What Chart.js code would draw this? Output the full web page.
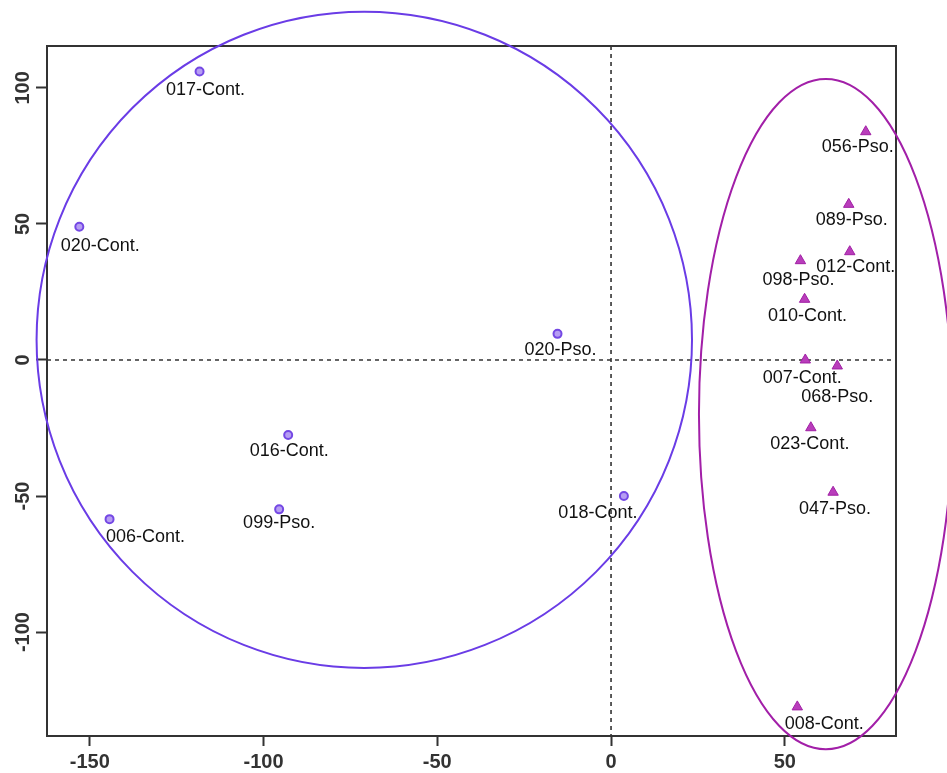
<!DOCTYPE html>
<html>
<head>
<meta charset="utf-8">
<script src="https://cdn.jsdelivr.net/npm/chart.js@4"></script>
<style>
  html, body { margin: 0; padding: 0; background: #fff; }
  #wrap { width: 947px; height: 773px; }
</style>
</head>
<body>
<div id="wrap"><canvas id="pca" width="947" height="773"></canvas></div>
<script>
// Group 1 (circles)
const circleNames = ["017-Cont.", "020-Cont.", "020-Pso.", "016-Cont.", "099-Pso.", "006-Cont.", "018-Cont."];
const circleX = [-118.4, -153.0, -15.4, -92.9, -95.5, -144.3, 3.7];
const circleY = [106.0, 49.0, 9.6, -27.6, -54.9, -58.5, -50.0];

// Group 2 (triangles)
const triangleNames = ["056-Pso.", "089-Pso.", "012-Cont.", "098-Pso.", "010-Cont.", "007-Cont.", "068-Pso.", "023-Cont.", "047-Pso.", "008-Cont."];
const triangleX = [73.3, 68.4, 68.7, 54.5, 55.7, 55.9, 65.1, 57.5, 63.9, 53.6];
const triangleY = [83.9, 57.2, 39.8, 36.5, 22.3, 0.0, -2.2, -24.9, -48.6, -127.5];

// Group ellipses: centre and half-axes in data units
const ellipseCx = [-71.0, 61.8];
const ellipseCy = [7.4, -19.9];
const ellipseRx = [94.3, 36.5];
const ellipseRy = [120.6, 123.2];

// Tick values
const xTicks = [-150, -100, -50, 0, 50];
const yTicks = [-100, -50, 0, 50, 100];

// Label nudges (pixels) so text sits like the original
const circleLabelDx = [6, 21, 3, 1, 0, 36, -26];
const circleLabelDy = [18, 19, 16, 16, 14, 18, 17];
const triangleLabelDx = [-8, 3, 6, -2, 3, -3, 0, -1, 2, 27];
const triangleLabelDy = [15, 16, 15, 19, 17, 18, 31, 16, 17, 17];

const blue = "#6a3ce6";
const magenta = "#a21fa8";
const axisColor = "#333333";

function toPoints(xs, ys) {
  return xs.map((x, i) => ({ x: x, y: ys[i] }));
}

// zero lines, frame, ellipses, labels
const decorPlugin = {
  id: "decor",
  beforeDatasetsDraw(chart) {
    const ctx = chart.ctx;
    const a = chart.chartArea;
    const xs = chart.scales.x;
    const ys = chart.scales.y;
    ctx.save();
    ctx.strokeStyle = axisColor;
    ctx.lineWidth = 1.6;
    ctx.setLineDash([4, 4]);
    const x0 = xs.getPixelForValue(0);
    const y0 = ys.getPixelForValue(0);
    ctx.beginPath();
    ctx.moveTo(x0, a.top);
    ctx.lineTo(x0, a.bottom);
    ctx.moveTo(a.left, y0);
    ctx.lineTo(a.right, y0);
    ctx.stroke();
    ctx.restore();
  },
  afterDatasetsDraw(chart) {
    const ctx = chart.ctx;
    const a = chart.chartArea;
    const xs = chart.scales.x;
    const ys = chart.scales.y;
    ctx.save();

    // frame
    ctx.strokeStyle = axisColor;
    ctx.lineWidth = 2;
    ctx.strokeRect(a.left, a.top, a.right - a.left, a.bottom - a.top);

    // ellipses
    const colors = [blue, magenta];
    ellipseCx.forEach((cx, i) => {
      const px = xs.getPixelForValue(cx);
      const py = ys.getPixelForValue(ellipseCy[i]);
      const rx = Math.abs(xs.getPixelForValue(cx + ellipseRx[i]) - px);
      const ry = Math.abs(ys.getPixelForValue(ellipseCy[i] + ellipseRy[i]) - py);
      ctx.beginPath();
      ctx.ellipse(px, py, rx, ry, 0, 0, Math.PI * 2);
      ctx.strokeStyle = colors[i];
      ctx.lineWidth = 2;
      ctx.stroke();
    });

    // point labels
    ctx.fillStyle = "#111";
    ctx.font = "18px 'Liberation Sans', Arial, sans-serif";
    ctx.textAlign = "center";
    ctx.textBaseline = "middle";
    circleNames.forEach((n, i) => {
      ctx.fillText(n, xs.getPixelForValue(circleX[i]) + circleLabelDx[i],
        ys.getPixelForValue(circleY[i]) + circleLabelDy[i]);
    });
    triangleNames.forEach((n, i) => {
      ctx.fillText(n, xs.getPixelForValue(triangleX[i]) + triangleLabelDx[i],
        ys.getPixelForValue(triangleY[i]) + triangleLabelDy[i]);
    });

    // rotated y tick labels
    ctx.fillStyle = axisColor;
    ctx.font = "bold 20px 'Liberation Sans', Arial, sans-serif";
    yTicks.forEach((v) => {
      ctx.save();
      ctx.translate(23, ys.getPixelForValue(v));
      ctx.rotate(-Math.PI / 2);
      ctx.fillText(String(v), 0, 0);
      ctx.restore();
    });
    ctx.restore();
  },
};

const ctx = document.getElementById("pca").getContext("2d");
new Chart(ctx, {
  type: "scatter",
  data: {
    datasets: [
      {
        label: "Group 1",
        data: toPoints(circleX, circleY),
        pointStyle: "circle",
        pointRadius: 4,
        pointBorderWidth: 2,
        pointBackgroundColor: "#b69df3",
        pointBorderColor: "#7448e4",
        clip: false,
      },
      {
        label: "Group 2",
        data: toPoints(triangleX, triangleY),
        pointStyle: "triangle",
        pointRadius: 6,
        pointBorderWidth: 1,
        pointBackgroundColor: "#b93dbb",
        pointBorderColor: "#a020a4",
        clip: false,
      },
    ],
  },
  options: {
    responsive: false,
    animation: false,
    events: [],
    layout: { padding: { left: 0, right: 51, top: 46, bottom: 0 } },
    plugins: { legend: { display: false }, tooltip: { enabled: false } },
    scales: {
      x: {
        type: "linear",
        min: -162.3,
        max: 82,
        afterBuildTicks: (scale) => {
          scale.ticks = xTicks.map((v) => ({ value: v }));
        },
        afterFit: (scale) => {
          scale.height = 37;
        },
        grid: {
          drawOnChartArea: false,
          drawTicks: true,
          tickLength: 10,
          tickColor: axisColor,
          tickWidth: 2,
        },
        border: { display: true, color: axisColor, width: 2 },
        ticks: {
          padding: 4,
          maxRotation: 0,
          color: axisColor,
          font: { family: "'Liberation Sans', Arial, sans-serif", size: 20, weight: "bold" },
        },
      },
      y: {
        type: "linear",
        min: -138.2,
        max: 115.4,
        afterBuildTicks: (scale) => {
          scale.ticks = yTicks.map((v) => ({ value: v }));
        },
        afterFit: (scale) => {
          scale.width = 47;
        },
        grid: {
          drawOnChartArea: false,
          drawTicks: true,
          tickLength: 11,
          tickColor: axisColor,
          tickWidth: 2,
        },
        border: { display: true, color: axisColor, width: 2 },
        ticks: {
          color: "rgba(0,0,0,0)",
          font: { size: 20 },
        },
      },
    },
  },
  plugins: [decorPlugin],
});
</script>
</body>
</html>
